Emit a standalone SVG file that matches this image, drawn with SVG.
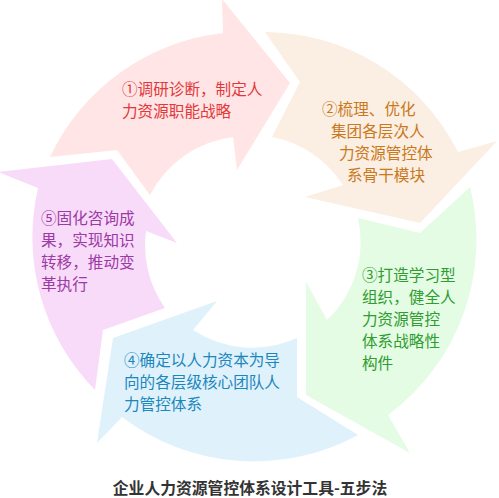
<svg xmlns="http://www.w3.org/2000/svg" width="499" height="498" viewBox="0 0 499 498">
<style>
.t{font-family:"Noto Sans CJK SC","Noto Sans",sans-serif;font-size:15.6px}
.title{font-family:"Noto Sans CJK SC","Noto Sans",sans-serif;font-size:15.8px;font-weight:bold;fill:#333333;text-anchor:middle}
</style>
<rect width="499" height="498" fill="#ffffff"/>
<g id="connectors"></g>
<g id="step1">
<path d="M50,157 A218,218 0 0 1 223,33 L222,-1 L290,83 L237,170 L233,137 A108,108 0 0 0 150,195 L117,150 Z" fill="#ffe5e5"/>
<text class="t" fill="#e2383a"><tspan x="122" y="95">①调研诊断，制定人</tspan><tspan x="122" y="117">力资源职能战略</tspan></text>
</g>
<g id="step2">
<path d="M265,32 A218,218 0 0 1 458,152 L497,141 L420,223 L305,197 L343,185 A108,108 0 0 0 272,137 L300,82 Z" fill="#fbeee2"/>
<text class="t" fill="#c9791d"><tspan x="322" y="115">②梳理、优化</tspan><tspan x="331" y="137">集团各层次人</tspan><tspan x="339" y="159">力资源管控体</tspan><tspan x="347" y="181">系骨干模块</tspan></text>
</g>
<g id="step3">
<path d="M470,187 A218,218 0 0 1 388,415 L410,453 L306,395 L306,282 L327,320 A108,108 0 0 0 358,218 L420,233 Z" fill="#e4fbe4"/>
<text class="t" fill="#2f9d2f"><tspan x="362" y="281">③打造学习型</tspan><tspan x="362" y="303">组织，健全人</tspan><tspan x="362" y="325">力资源管控</tspan><tspan x="362" y="347">体系战略性</tspan><tspan x="362" y="369">构件</tspan></text>
</g>
<g id="step4">
<path d="M358,435 A218,218 0 0 1 122,417 L97,443 L113,338 L217,301 L193,330 A108,108 0 0 0 297,338 L297,397 Z" fill="#dff1fa"/>
<text class="t" fill="#1b87bd"><tspan x="124" y="366">④确定以人力资本为导</tspan><tspan x="124" y="388">向的各层级核心团队人</tspan><tspan x="124" y="410">力管控体系</tspan></text>
</g>
<g id="step5">
<path d="M95,390 A218,218 0 0 1 38,188 L-2,172 L112,159 L177,243 L146,231 A108,108 0 0 0 165,308 L103,330 Z" fill="#f8dbf8"/>
<text class="t" fill="#9c3aa6"><tspan x="41" y="224">⑤固化咨询成</tspan><tspan x="41" y="246">果，实现知识</tspan><tspan x="41" y="268">转移，推动变</tspan><tspan x="41" y="290">革执行</tspan></text>
</g>
<g id="title">
<text class="title" x="250" y="494">企业人力资源管控体系设计工具-五步法</text>
</g>
</svg>
